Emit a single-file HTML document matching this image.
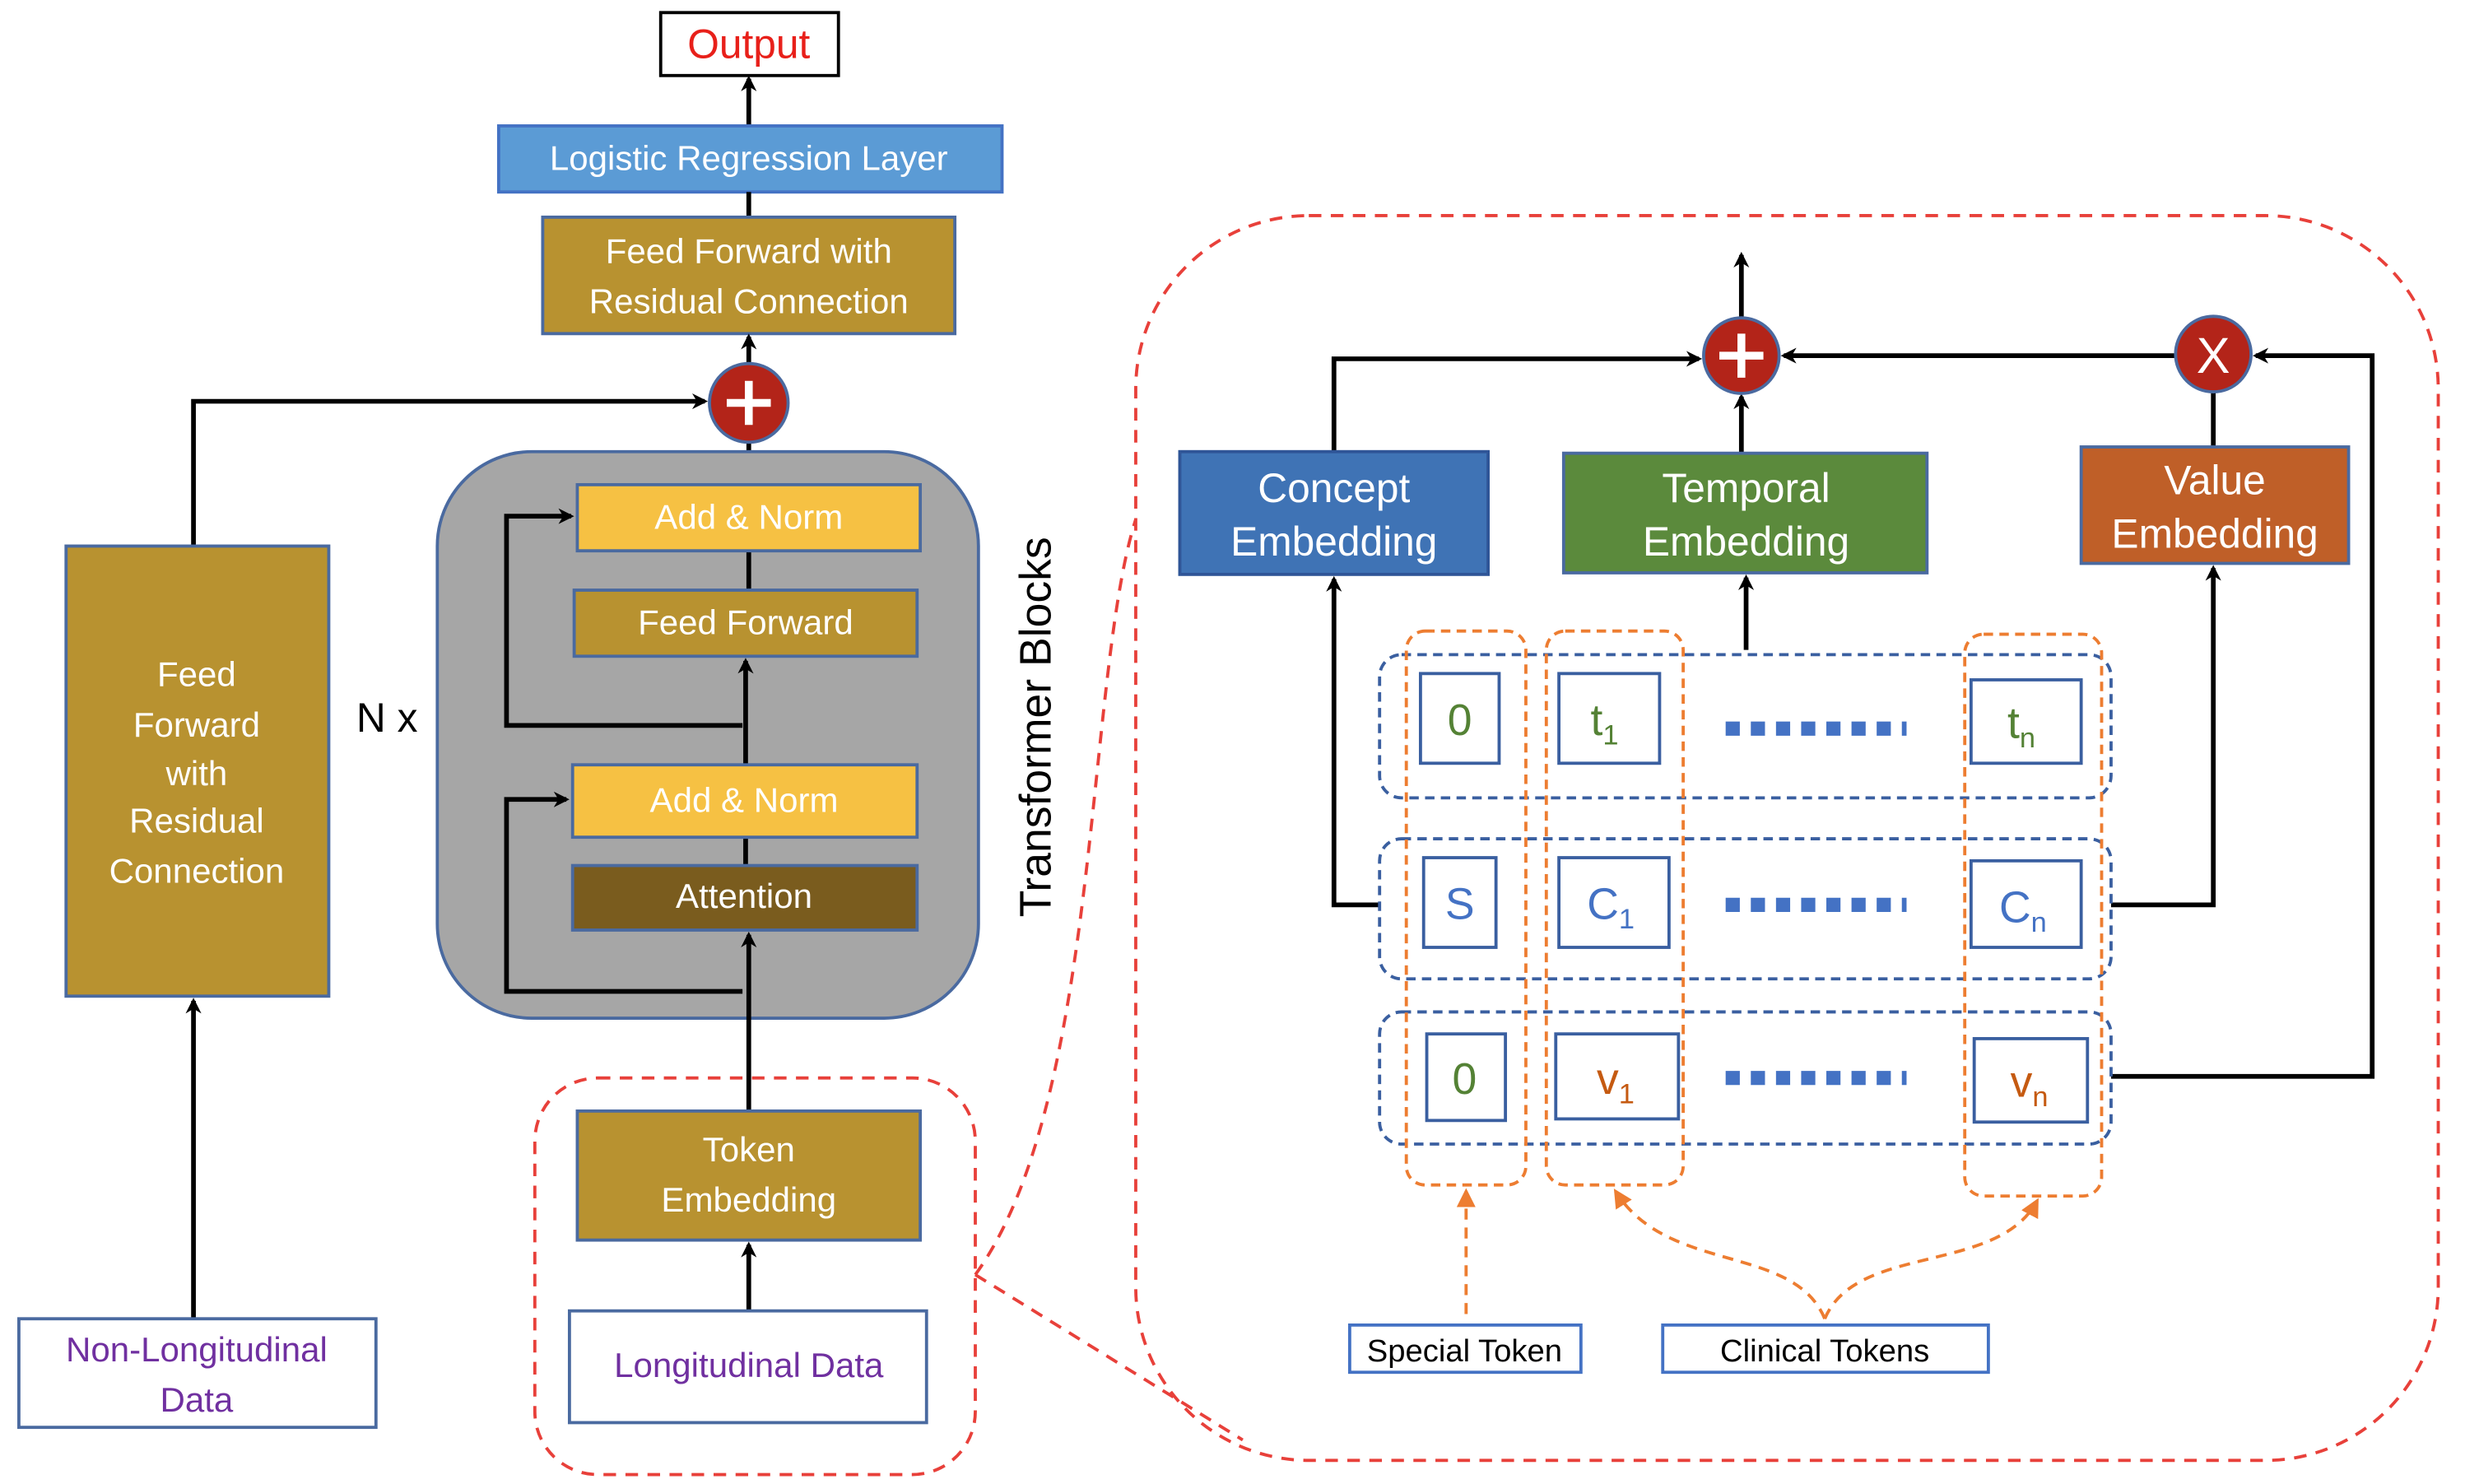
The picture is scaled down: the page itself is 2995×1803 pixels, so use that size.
<!DOCTYPE html>
<html><head><meta charset="utf-8"><style>
html,body{margin:0;padding:0;background:#fff;}
svg{display:block;}
text{font-family:"Liberation Sans",sans-serif;}
</style></head><body>
<svg width="2995" height="1803" viewBox="0 0 1567 943" preserveAspectRatio="none" xmlns="http://www.w3.org/2000/svg">
<defs>
<marker id="a" markerWidth="10" markerHeight="10" refX="8" refY="5" orient="auto" markerUnits="userSpaceOnUse"><path d="M0,0 L10,5 L0,10 L3,5 z" fill="#000"/></marker>
<marker id="o" markerWidth="12" markerHeight="12" refX="10" refY="6" orient="auto" markerUnits="userSpaceOnUse"><path d="M0,0 L12,6 L0,12 z" fill="#ed7d31"/></marker>
</defs>
<rect width="1567" height="943" fill="#fff"/>

<rect x="722" y="137" width="828" height="791" rx="110" fill="none" stroke="#e8403a" stroke-width="2" stroke-dasharray="8,6"/>
<path d="M620,810 C700,700 690,430 722,330" fill="none" stroke="#e8403a" stroke-width="2" stroke-dasharray="8,6"/>
<path d="M620,810 L790,915" fill="none" stroke="#e8403a" stroke-width="2" stroke-dasharray="8,6"/>
<rect x="340" y="685" width="280" height="252" rx="40" fill="none" stroke="#e8403a" stroke-width="2" stroke-dasharray="8,6"/>

<rect x="420" y="8" width="113" height="40" fill="#fff" stroke="#000" stroke-width="2"/>
<text x="476" y="37" font-size="26" fill="#e8201a" text-anchor="middle">Output</text>
<line x1="476" y1="80" x2="476" y2="50" stroke="#000" stroke-width="3" marker-end="url(#a)"/>
<rect x="317" y="80" width="320" height="42" fill="#5b9bd5" stroke="#4472c4" stroke-width="2"/>
<text x="476" y="108" font-size="22" fill="#fff" text-anchor="middle">Logistic Regression Layer</text>
<line x1="476" y1="122" x2="476" y2="138" stroke="#000" stroke-width="3"/>
<rect x="345" y="138" width="262" height="74" fill="#b89230" stroke="#4a6aa0" stroke-width="2"/>
<text x="476" y="167" font-size="22" fill="#fff" text-anchor="middle">Feed Forward with</text>
<text x="476" y="199" font-size="22" fill="#fff" text-anchor="middle">Residual Connection</text>
<line x1="476" y1="232" x2="476" y2="214" stroke="#000" stroke-width="3" marker-end="url(#a)"/>
<line x1="476" y1="287" x2="476" y2="270" stroke="#000" stroke-width="3"/>
<circle cx="476" cy="256" r="25" fill="#b32419" stroke="#4a6aa0" stroke-width="2"/>
<path d="M476,242 V270 M462,256 H490" stroke="#fff" stroke-width="5"/>
<path d="M123,347 V255 H448" fill="none" stroke="#000" stroke-width="3" marker-end="url(#a)"/>

<rect x="42" y="347" width="167" height="286" fill="#b89230" stroke="#4a6aa0" stroke-width="2"/>
<g font-size="22" fill="#fff" text-anchor="middle">
<text x="125" y="436">Feed</text><text x="125" y="468">Forward</text><text x="125" y="499">with</text><text x="125" y="529">Residual</text><text x="125" y="561">Connection</text>
</g>
<line x1="123" y1="838" x2="123" y2="636" stroke="#000" stroke-width="3" marker-end="url(#a)"/>
<rect x="12" y="838" width="227" height="69" fill="#fff" stroke="#4a6aa0" stroke-width="2"/>
<text x="125" y="865" font-size="22" fill="#7030a0" text-anchor="middle">Non-Longitudinal</text>
<text x="125" y="897" font-size="22" fill="#7030a0" text-anchor="middle">Data</text>

<rect x="278" y="287" width="344" height="360" rx="60" fill="#a6a6a6" stroke="#4a6aa0" stroke-width="2"/>
<line x1="476" y1="350" x2="476" y2="375" stroke="#000" stroke-width="3"/>
<line x1="474" y1="486" x2="474" y2="420" stroke="#000" stroke-width="3" marker-end="url(#a)"/>
<line x1="474" y1="532" x2="474" y2="550" stroke="#000" stroke-width="3"/>
<line x1="476" y1="705" x2="476" y2="594" stroke="#000" stroke-width="3" marker-end="url(#a)"/>
<path d="M472,461 H322 V328 H363" fill="none" stroke="#000" stroke-width="3" marker-end="url(#a)"/>
<path d="M472,630 H322 V508 H360" fill="none" stroke="#000" stroke-width="3" marker-end="url(#a)"/>
<rect x="367" y="308" width="218" height="42" fill="#f6c143" stroke="#4a6aa0" stroke-width="2"/>
<text x="476" y="336" font-size="22" fill="#fff" text-anchor="middle">Add &amp; Norm</text>
<rect x="365" y="375" width="218" height="42" fill="#b89230" stroke="#4a6aa0" stroke-width="2"/>
<text x="474" y="403" font-size="22" fill="#fff" text-anchor="middle">Feed Forward</text>
<rect x="364" y="486" width="219" height="46" fill="#f6c143" stroke="#4a6aa0" stroke-width="2"/>
<text x="473" y="516" font-size="22" fill="#fff" text-anchor="middle">Add &amp; Norm</text>
<rect x="364" y="550" width="219" height="41" fill="#7a5c1e" stroke="#4a6aa0" stroke-width="2"/>
<text x="473" y="577" font-size="22" fill="#fff" text-anchor="middle">Attention</text>
<text x="246" y="465" font-size="26" fill="#000" text-anchor="middle">N x</text>
<text transform="translate(668,462) rotate(-90)" font-size="28" fill="#000" text-anchor="middle">Transformer Blocks</text>

<rect x="367" y="706" width="218" height="82" fill="#b89230" stroke="#4a6aa0" stroke-width="2"/>
<text x="476" y="738" font-size="22" fill="#fff" text-anchor="middle">Token</text>
<text x="476" y="770" font-size="22" fill="#fff" text-anchor="middle">Embedding</text>
<line x1="476" y1="833" x2="476" y2="791" stroke="#000" stroke-width="3" marker-end="url(#a)"/>
<rect x="362" y="833" width="227" height="71" fill="#fff" stroke="#4a6aa0" stroke-width="2"/>
<text x="476" y="875" font-size="22" fill="#7030a0" text-anchor="middle">Longitudinal Data</text>

<line x1="1107" y1="202" x2="1107" y2="162" stroke="#000" stroke-width="3" marker-end="url(#a)"/>
<path d="M848,287 V228 H1080" fill="none" stroke="#000" stroke-width="3" marker-end="url(#a)"/>
<line x1="1107" y1="288" x2="1107" y2="252" stroke="#000" stroke-width="3" marker-end="url(#a)"/>
<line x1="1383" y1="226" x2="1134" y2="226" stroke="#000" stroke-width="3" marker-end="url(#a)"/>
<line x1="1407" y1="284" x2="1407" y2="249" stroke="#000" stroke-width="3"/>
<path d="M1342,684 H1508 V226 H1434" fill="none" stroke="#000" stroke-width="3" marker-end="url(#a)"/>
<path d="M877,575 H848 V368" fill="none" stroke="#000" stroke-width="3" marker-end="url(#a)"/>
<path d="M1342,575 H1407 V361" fill="none" stroke="#000" stroke-width="3" marker-end="url(#a)"/>
<line x1="1110" y1="413" x2="1110" y2="367" stroke="#000" stroke-width="3" marker-end="url(#a)"/>
<circle cx="1107" cy="226" r="24" fill="#b32419" stroke="#4a6aa0" stroke-width="2"/>
<path d="M1107,212 V240 M1093,226 H1121" stroke="#fff" stroke-width="5"/>
<circle cx="1407" cy="225" r="24" fill="#b32419" stroke="#4a6aa0" stroke-width="2"/>
<text x="1407" y="237" font-size="32" fill="#fff" text-anchor="middle">X</text>

<rect x="750" y="287" width="196" height="78" fill="#3f73b5" stroke="#2f5597" stroke-width="2"/>
<text x="848" y="319" font-size="26" fill="#fff" text-anchor="middle">Concept</text>
<text x="848" y="353" font-size="26" fill="#fff" text-anchor="middle">Embedding</text>
<rect x="994" y="288" width="231" height="76" fill="#5b8a3c" stroke="#4a6aa0" stroke-width="2"/>
<text x="1110" y="319" font-size="26" fill="#fff" text-anchor="middle">Temporal</text>
<text x="1110" y="353" font-size="26" fill="#fff" text-anchor="middle">Embedding</text>
<rect x="1323" y="284" width="170" height="74" fill="#bf5f28" stroke="#4a6aa0" stroke-width="2"/>
<text x="1408" y="314" font-size="26" fill="#fff" text-anchor="middle">Value</text>
<text x="1408" y="348" font-size="26" fill="#fff" text-anchor="middle">Embedding</text>

<g fill="none" stroke="#3a5fa0" stroke-width="2" stroke-dasharray="6,4">
<rect x="877" y="416" width="465" height="91" rx="14"/>
<rect x="877" y="533" width="465" height="89" rx="14"/>
<rect x="877" y="643" width="465" height="84" rx="14"/>
</g>
<g fill="none" stroke="#ed7d31" stroke-width="2" stroke-dasharray="6,4">
<rect x="894" y="401" width="76" height="352" rx="12"/>
<rect x="983" y="401" width="87" height="352" rx="12"/>
<rect x="1249" y="403" width="87" height="357" rx="12"/>
</g>
<g fill="#fff" stroke="#3a5fa0" stroke-width="2">
<rect x="903" y="428" width="50" height="57"/>
<rect x="991" y="428" width="64" height="57"/>
<rect x="1253" y="432" width="70" height="53"/>
<rect x="905" y="545" width="46" height="57"/>
<rect x="991" y="545" width="70" height="57"/>
<rect x="1253" y="547" width="70" height="55"/>
<rect x="907" y="657" width="50" height="55"/>
<rect x="989" y="657" width="78" height="54"/>
<rect x="1255" y="660" width="72" height="53"/>
</g>
<g font-size="28" text-anchor="middle">
<text x="928" y="467" fill="#548235">0</text>
<text x="1020" y="467" fill="#548235">t<tspan font-size="18" dy="6">1</tspan></text>
<text x="1285" y="469" fill="#548235">t<tspan font-size="18" dy="6">n</tspan></text>
<text x="928" y="584" fill="#4472c4">S</text>
<text x="1024" y="584" fill="#4472c4">C<tspan font-size="18" dy="6">1</tspan></text>
<text x="1286" y="586" fill="#4472c4">C<tspan font-size="18" dy="6">n</tspan></text>
<text x="931" y="695" fill="#548235">0</text>
<text x="1027" y="695" fill="#c55a11">v<tspan font-size="18" dy="6">1</tspan></text>
<text x="1290" y="697" fill="#c55a11">v<tspan font-size="18" dy="6">n</tspan></text>
</g>
<g stroke="#4472c4" stroke-width="9" stroke-dasharray="9,7">
<line x1="1097" y1="463" x2="1212" y2="463"/>
<line x1="1097" y1="575" x2="1212" y2="575"/>
<line x1="1097" y1="685" x2="1212" y2="685"/>
</g>

<g fill="none" stroke="#ed7d31" stroke-width="2" stroke-dasharray="7,5">
<line x1="932" y1="835" x2="932" y2="757" marker-end="url(#o)"/>
<path d="M1160,838 C1140,790 1060,810 1027,757" marker-end="url(#o)"/>
<path d="M1160,838 C1180,790 1270,810 1295,763" marker-end="url(#o)"/>
</g>
<rect x="858" y="842" width="147" height="30" fill="#fff" stroke="#4472c4" stroke-width="2"/>
<text x="931" y="865" font-size="20" fill="#000" text-anchor="middle">Special Token</text>
<rect x="1057" y="842" width="207" height="30" fill="#fff" stroke="#4472c4" stroke-width="2"/>
<text x="1160" y="865" font-size="20" fill="#000" text-anchor="middle">Clinical Tokens</text>
</svg>
</body></html>
